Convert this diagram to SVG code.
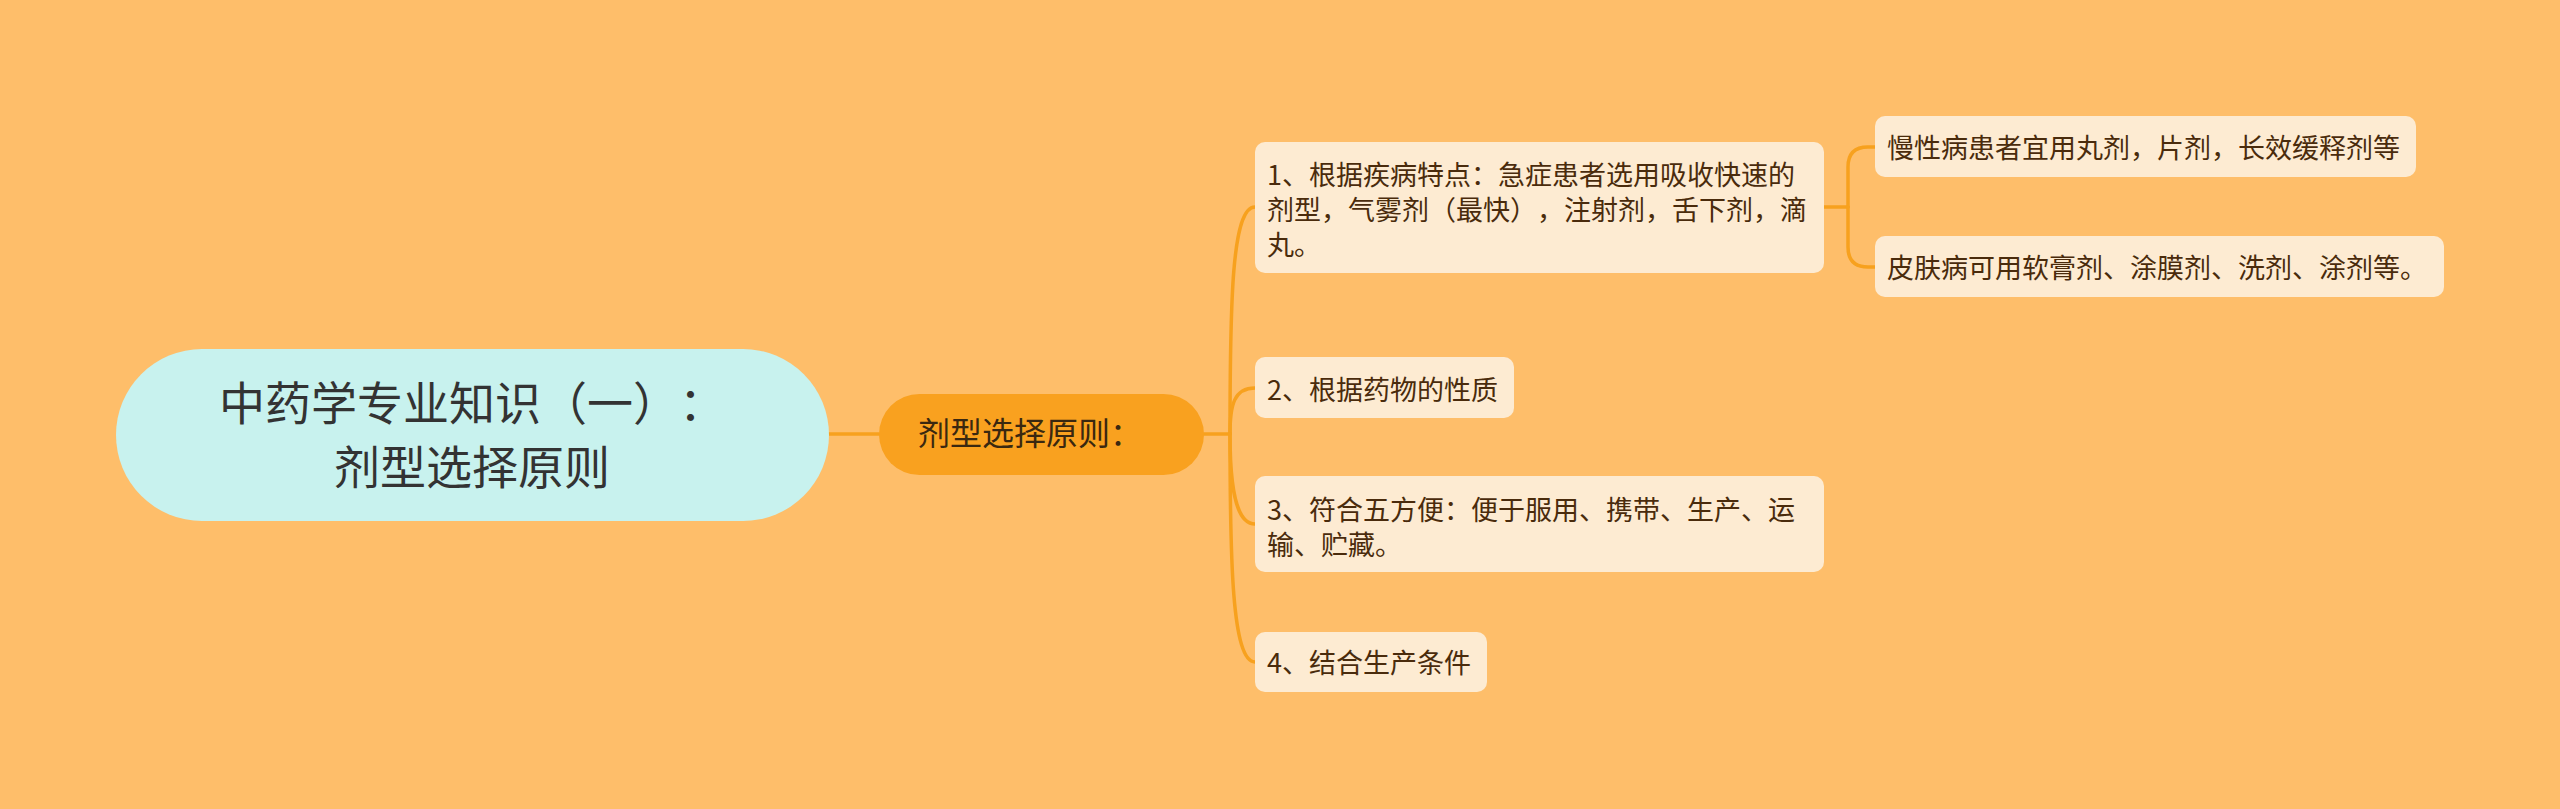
<svg xmlns="http://www.w3.org/2000/svg" width="2560" height="809" viewBox="0 0 2560 809">
<style>
text{font-family:"Noto Sans CJK SC","Noto Sans",sans-serif;text-spacing-trim:space-all;}
.conn{fill:none;stroke:#F7A11E;stroke-width:3.5;stroke-linecap:round;}
.box{fill:#FDEBD2;}
.t{font-size:27px;fill:#4A2B0C;}
.root{fill:#C8F2EE;}
.rt{font-size:46px;fill:#333333;text-anchor:middle;}
.main{fill:#F9A11F;}
.mt{font-size:32px;fill:#3A2810;}
</style>
<rect x="0" y="0" width="2560" height="809" fill="#FEBE6A"/>
<g id="connectors">
<path class="conn" d="M829 434 H879"/>
<path class="conn" d="M1204 434 H1230"/>
<path class="conn" d="M1230 434 C1230 300 1232 207 1255 207"/>
<path class="conn" d="M1230 434 C1230 405 1234 388 1255 388"/>
<path class="conn" d="M1230 434 C1230 480 1234 524 1255 524"/>
<path class="conn" d="M1230 434 C1230 560 1232 662 1255 662"/>
<path class="conn" d="M1823 207 H1848"/>
<path class="conn" d="M1848 207 V167 Q1848 147 1868 147 H1875"/>
<path class="conn" d="M1848 207 V247 Q1848 267 1868 267 H1875"/>
</g>
<g id="root">
<rect class="root" x="116" y="349" width="713" height="172" rx="86"/>
<text class="rt" x="472" y="420">中药学专业知识（一）：</text>
<text class="rt" x="472" y="484">剂型选择原则</text>
</g>
<g id="main">
<rect class="main" x="879" y="394" width="325" height="81" rx="40.5"/>
<text class="mt" x="918" y="445">剂型选择原则：</text>
</g>
<g id="c1">
<rect class="box" x="1255" y="142" width="569" height="131" rx="10"/>
<text class="t" x="1267" y="185">1、根据疾病特点：急症患者选用吸收快速的</text>
<text class="t" x="1267" y="220">剂型，气雾剂（最快），注射剂，舌下剂，滴</text>
<text class="t" x="1267" y="255">丸。</text>
</g>
<g id="c2">
<rect class="box" x="1255" y="357" width="259" height="61" rx="10"/>
<text class="t" x="1267" y="400">2、根据药物的性质</text>
</g>
<g id="c3">
<rect class="box" x="1255" y="476" width="569" height="96" rx="10"/>
<text class="t" x="1267" y="520">3、符合五方便：便于服用、携带、生产、运</text>
<text class="t" x="1267" y="555">输、贮藏。</text>
</g>
<g id="c4">
<rect class="box" x="1255" y="632" width="232" height="60" rx="10"/>
<text class="t" x="1267" y="673">4、结合生产条件</text>
</g>
<g id="g1">
<rect class="box" x="1875" y="116" width="541" height="61" rx="10"/>
<text class="t" x="1887" y="158">慢性病患者宜用丸剂，片剂，长效缓释剂等</text>
</g>
<g id="g2">
<rect class="box" x="1875" y="236" width="569" height="61" rx="10"/>
<text class="t" x="1887" y="278">皮肤病可用软膏剂、涂膜剂、洗剂、涂剂等。</text>
</g>
</svg>
